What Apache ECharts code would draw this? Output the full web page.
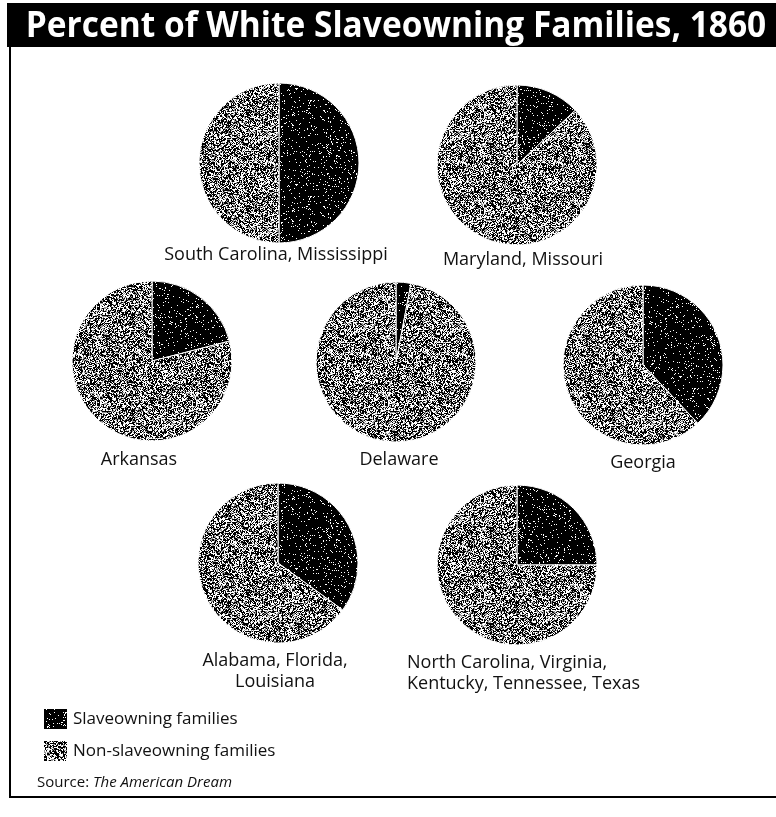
<!DOCTYPE html>
<html>
<head>
<meta charset="utf-8">
<script src="https://cdn.jsdelivr.net/npm/echarts@6/dist/echarts.min.js"></script>
<style>
  html, body { margin: 0; padding: 0; background: #fff; }
  #main { width: 776px; height: 817px; }
</style>
</head>
<body>
<div id="main"></div>
<script>
  // data: share of white families owning slaves, 1860
  var groups = [
    'South Carolina, Mississippi',
    'Maryland, Missouri',
    'Arkansas',
    'Delaware',
    'Georgia',
    'Alabama, Florida,\nLouisiana',
    'North Carolina, Virginia,\nKentucky, Tennessee, Texas'
  ];
  var slavePct = [50, 13, 21, 3, 38, 35, 25];
  var legendNames = ['Slaveowning families', 'Non-slaveowning families'];

  // where each pie and its caption sit (px)
  var centers = [[279, 163], [517, 165], [152, 361], [396, 362], [643, 365], [278, 563], [517, 565]];
  var labelPos = [[276, 255], [523, 260], [139, 460], [399, 460], [643, 463], [275, 671], [407, 673]];
  var labelAlign = ['center', 'center', 'center', 'center', 'center', 'center', 'left'];

  var FONT = '"Open Sans", "Noto Sans", sans-serif';

  // grainy print texture used as fill
  function makeTexture(dark, seed) {
    var n = 96;
    var c = document.createElement('canvas');
    c.width = c.height = n;
    var ctx = c.getContext('2d');
    var img = ctx.createImageData(n, n);
    var s = seed;
    for (var i = 0; i < n * n; i++) {
      s = (Math.imul(s, 1103515245) + 12345) >>> 0;
      var r = (s >>> 16) % 100;
      var v;
      if (dark) v = r < 6 ? 255 : 0;
      else v = r < 46 ? 0 : (r < 82 ? 255 : 150);
      img.data[i * 4] = v;
      img.data[i * 4 + 1] = v;
      img.data[i * 4 + 2] = v;
      img.data[i * 4 + 3] = 255;
    }
    ctx.putImageData(img, 0, 0);
    return { image: c, repeat: 'repeat' };
  }
  var darkTex = makeTexture(true, 7);
  var greyTex = makeTexture(false, 13);

  var myChart = echarts.init(document.getElementById('main'));

  var series = groups.map(function (g, i) {
    return {
      type: 'pie',
      name: g,
      center: centers[i],
      radius: 80,
      startAngle: 90,
      clockwise: true,
      silent: true,
      label: { show: false },
      labelLine: { show: false },
      itemStyle: { borderColor: '#fff', borderWidth: 1 },
      data: [
        { name: legendNames[0], value: slavePct[i], itemStyle: { color: darkTex } },
        { name: legendNames[1], value: 100 - slavePct[i], itemStyle: { color: greyTex } }
      ]
    };
  });

  var graphics = [
    // frame
    { type: 'rect', shape: { x: 10, y: 46, width: 775, height: 751 },
      style: { fill: 'none', stroke: '#000', lineWidth: 2 }, silent: true },
    // title bar
    { type: 'rect', shape: { x: 7, y: 3, width: 775, height: 44 },
      style: { fill: '#000' }, silent: true },
    { type: 'text', x: 396, y: 27, scaleX: 0.93, originX: 0, originY: 0,
      style: { text: 'Percent of White Slaveowning Families, 1860', fill: '#fff',
        font: 'bold 36px ' + FONT, textAlign: 'center', textVerticalAlign: 'middle' } },
    // source line
    { type: 'text', left: 37, top: 775,
      style: { rich: {
          a: { font: '15px ' + FONT, fill: '#111' },
          b: { font: 'italic 15px ' + FONT, fill: '#111' }
        }, text: '{a|Source: }{b|The American Dream}' } }
  ];

  groups.forEach(function (g, i) {
    graphics.push({
      type: 'text', x: labelPos[i][0], y: labelPos[i][1],
      style: { text: g, fill: '#111', font: '18px ' + FONT, lineHeight: 21,
        textAlign: labelAlign[i], textVerticalAlign: 'middle' }
    });
  });

  var option = {
    animation: false,
    backgroundColor: '#fff',
    legend: {
      data: legendNames,
      orient: 'vertical',
      left: 37,
      top: 702,
      icon: 'rect',
      itemWidth: 25,
      itemHeight: 22,
      itemGap: 8,
      selectedMode: false,
      textStyle: { fontSize: 17, fontFamily: FONT, color: '#111' }
    },
    graphic: graphics,
    series: series
  };
  myChart.setOption(option);
</script>
</body>
</html>
